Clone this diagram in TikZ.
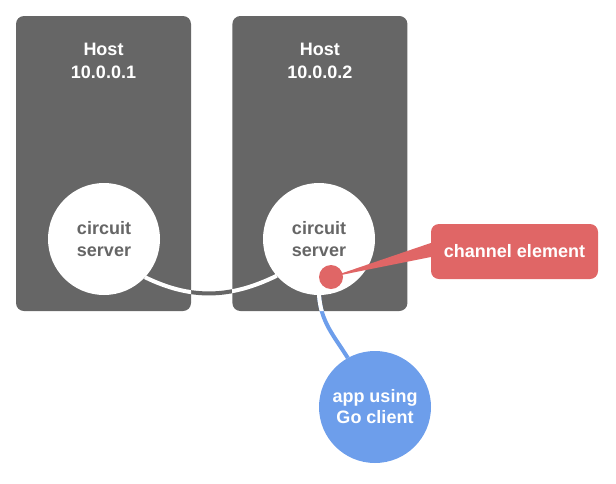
\documentclass[tikz,border=0pt]{standalone}
\usepackage{fontspec}
\setmainfont{Liberation Sans}
\usetikzlibrary{positioning}
\definecolor{hostcol}{HTML}{666666}
\definecolor{elemcol}{HTML}{E06666}
\definecolor{appcol}{HTML}{6D9EEB}
\tikzstyle{host} = [fill=hostcol, rounded corners=8pt,
    minimum width=175pt, minimum height=295pt, inner sep=0pt]
\tikzstyle{title} = [text=white, align=center, inner sep=0pt,
    font=\bfseries\fontsize{18}{23}\selectfont]
\tikzstyle{srv} = [circle, fill=white, minimum size=112pt, inner sep=0pt,
    text=hostcol, align=center, font=\bfseries\fontsize{18}{22}\selectfont]
\tikzstyle{app} = [circle, fill=appcol, minimum size=112pt, inner sep=0pt,
    text=white, align=center, font=\bfseries\fontsize{18}{21}\selectfont]
\tikzstyle{dot} = [circle, fill=elemcol, minimum size=24pt, inner sep=0pt]
\tikzstyle{elem} = [fill=elemcol, rounded corners=8pt, minimum width=167pt,
    minimum height=55pt, inner sep=0pt, text=white,
    font=\bfseries\fontsize{18}{22}\selectfont]
\tikzstyle{wire} = [line width=4pt]

\begin{document}
\begin{tikzpicture}[x=1pt, y=-1pt]
\useasboundingbox (0,0) rectangle (616,483);

% the two hosts
\node[host] (h1) at (103.5,163.5) {};
\node[host, right=41pt of h1] (h2) {};
\node[title] (t1) at (h1.north |- 0,60.5) {Host\\10.0.0.1};
\node[title] (t2) at (h2.north |- 0,60.5) {Host\\10.0.0.2};

% servers, only their centres are needed for the wires
\coordinate (c1) at (104,239);
\coordinate (c2) at (319,239);
\coordinate (ca) at (375,407);

% wires: grey/blue outside the hosts, white inside them
\draw[wire, hostcol] ([shift={(-43:56pt)}]c1) to[out=-26, in=-154] ([shift={(-139:56pt)}]c2);
\draw[wire, appcol] ([shift={(-90:56pt)}]c2) to[out=-86, in=122] ([shift={(119:56pt)}]ca);
\begin{scope}
  \clip (h1.north west) rectangle (h1.south east)
        (h2.north west) rectangle (h2.south east);
  \draw[wire, white] ([shift={(-43:56pt)}]c1) to[out=-26, in=-154] ([shift={(-139:56pt)}]c2);
  \draw[wire, white] ([shift={(-90:56pt)}]c2) to[out=-86, in=122] ([shift={(119:56pt)}]ca);
\end{scope}

\node[srv] (s1) at (c1) {circuit\\server};
\node[srv] (s2) at (c2) {circuit\\server};
\node[app] (a) at (ca) {app using\\Go client};

% channel element callout
\node[dot] (ce) at (331,277) {};
\node[elem] (el) at (514.5,251.5) {channel element};
\fill[elemcol] (ce.center) -- ([yshift=8.5pt]el.west) -- ([yshift=-5.5pt]el.west) -- cycle;

\end{tikzpicture}
\end{document}
